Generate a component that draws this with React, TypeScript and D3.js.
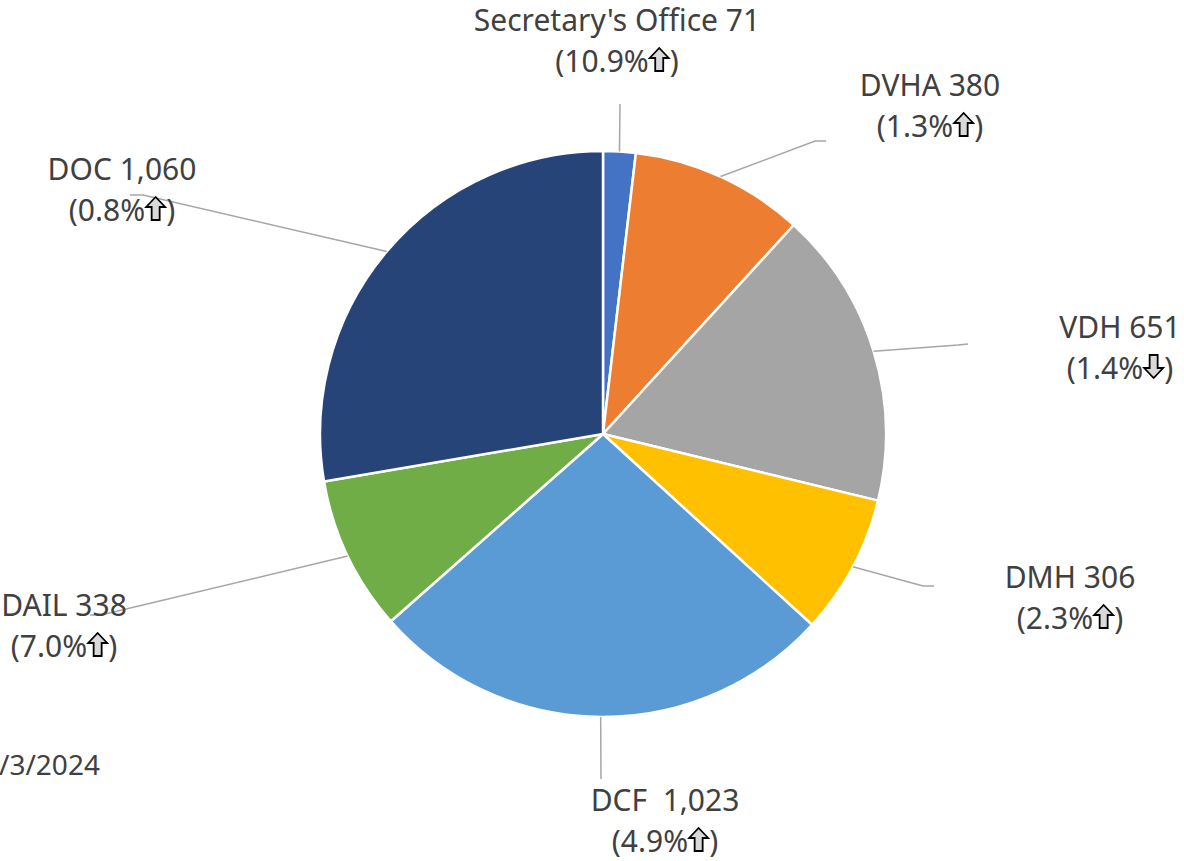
import React, { useEffect, useRef } from 'react'
import * as d3 from 'd3'

// slice data (clockwise from 12 o'clock)
const names = ["Secretary's Office", 'DVHA', 'VDH', 'DMH', 'DCF', 'DAIL', 'DOC']
const counts = [71, 380, 651, 306, 1023, 338, 1060]
const changes = ['10.9%', '1.3%', '1.4%', '2.3%', '4.9%', '7.0%', '0.8%']
const trend = ['up', 'up', 'down', 'up', 'up', 'up', 'up']
const colors = ['#4472C4', '#ED7D31', '#A5A5A5', '#FFC000', '#5B9BD5', '#70AD47', '#264478']

// label placement (manual, as in the original chart)
const labelLayout = [
  { cx: 617, y: 31, elbow: [620, 104], end: [620, 104] },
  { cx: 930, y: 96, elbow: [815, 141], end: [826, 141] },
  { cx: 1120, y: 338, elbow: [958, 345], end: [968, 344] },
  { cx: 1070, y: 588, elbow: [923, 586], end: [934, 586] },
  { cx: 665, y: 811, elbow: [601, 779], end: [601, 779] },
  { cx: 64, y: 616, elbow: [101, 615], end: [90, 615] },
  { cx: 122, y: 180, elbow: [143, 195], end: [130, 195] },
]

const W = 1184
const H = 861
const cx = 603
const cy = 434
const r = 283
const font = '"Noto Sans", sans-serif'
const fontSize = 30
const lineGap = 41
const textColor = '#404040'

export default function App() {
  const ref = useRef<SVGSVGElement>(null)

  useEffect(() => {
    const svg = d3.select(ref.current)
    svg.selectAll('*').remove()

    const pie = d3.pie<number>().sort(null).value(d => d)
    const arcs = pie(counts)
    const arc = d3.arc<d3.PieArcDatum<number>>().innerRadius(0).outerRadius(r)

    const g = svg.append('g').attr('transform', `translate(${cx},${cy})`)
    g.selectAll('path')
      .data(arcs)
      .enter()
      .append('path')
      .attr('d', arc)
      .attr('fill', (d, i) => colors[i])
      .attr('stroke', '#fff')
      .attr('stroke-width', 2.5)
      .attr('stroke-linejoin', 'round')

    // leader lines
    arcs.forEach((d, i) => {
      const a = (d.startAngle + d.endAngle) / 2
      const p0 = [cx + r * Math.sin(a), cy - r * Math.cos(a)]
      const L = labelLayout[i]
      svg.append('path')
        .attr('d', d3.line()([p0 as [number, number], L.elbow as [number, number], L.end as [number, number]]))
        .attr('fill', 'none')
        .attr('stroke', '#a6a6a6')
        .attr('stroke-width', 1.5)
    })

    // labels
    names.forEach((n, i) => {
      const L = labelLayout[i]
      const label = n === 'DCF' ? 'DCF  1,023' : `${n} ${d3.format(',')(counts[i])}`
      svg.append('text')
        .attr('x', L.cx)
        .attr('y', L.y)
        .attr('text-anchor', 'middle')
        .attr('font-family', font)
        .attr('font-size', fontSize)
        .attr('fill', textColor)
        .style('white-space', 'pre')
        .text(label)

      const y2 = L.y + lineGap
      const t1 = svg.append('text')
        .attr('y', y2)
        .attr('font-family', font)
        .attr('font-size', fontSize)
        .attr('fill', textColor)
        .text('(' + changes[i])
      const t2 = svg.append('text')
        .attr('y', y2)
        .attr('font-family', font)
        .attr('font-size', fontSize)
        .attr('fill', textColor)
        .text(')')
      const w1 = (t1.node() as SVGTextElement).getComputedTextLength()
      const w2 = (t2.node() as SVGTextElement).getComputedTextLength()
      const aw = 21
      const start = L.cx - (w1 + aw + w2) / 2
      t1.attr('x', start)
      t2.attr('x', start + w1 + aw)

      const up = 'M10.5,0 L20,10 L14.5,10 L14.5,23 L6.5,23 L6.5,10 L1,10 Z'
      const down = 'M6.5,0 L14.5,0 L14.5,13 L20,13 L10.5,23 L1,13 L6.5,13 Z'
      svg.append('path')
        .attr('d', trend[i] === 'up' ? up : down)
        .attr('transform', `translate(${start + w1},${y2 - 24})`)
        .attr('fill', '#d9d9d9')
        .attr('stroke', '#000')
        .attr('stroke-width', 1.8)
        .attr('stroke-linejoin', 'miter')
    })

    svg.append('text')
      .attr('x', -1)
      .attr('y', 775)
      .attr('font-family', font)
      .attr('font-size', 28)
      .attr('fill', textColor)
      .text('/3/2024')
  }, [])

  return (
    <svg
      ref={ref}
      width={W}
      height={H}
      style={{ position: 'absolute', left: 0, top: 0, background: '#fff' }}
    />
  )
}
